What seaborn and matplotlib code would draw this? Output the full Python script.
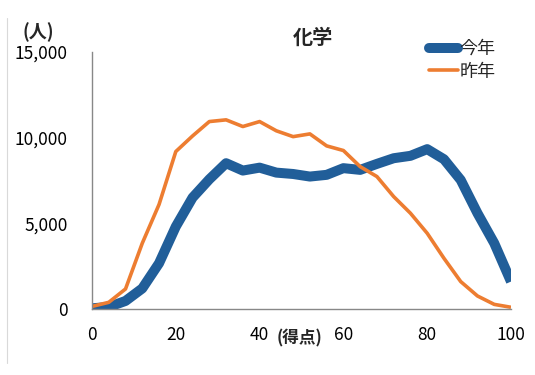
import matplotlib
matplotlib.use("Agg")
import matplotlib.pyplot as plt
import seaborn as sns
import pandas as pd
from matplotlib.ticker import FuncFormatter

scores = [0, 4, 8, 12, 16, 20, 24, 28, 32, 36, 40, 44, 48, 52, 56, 60, 64, 68, 72, 76, 80, 84, 88, 92, 96, 100]
this_year = [40, 120, 470, 1200, 2670, 4810, 6500, 7570, 8510, 8080, 8250, 7960, 7880, 7730,
             7830, 8220, 8120, 8470, 8800, 8940, 9330, 8740, 7530, 5590, 3840, 1600]
last_year = [150, 390, 1170, 3840, 6100, 9190, 10100, 10940, 11040, 10650, 10940, 10400, 10060, 10220,
             9520, 9250, 8310, 7730, 6560, 5590, 4420, 2960, 1600, 760, 270, 100]
series_names = ["今年", "昨年"]
title = "化学"
x_label = "(得点)"
y_label = "(人)"

df = pd.concat([
    pd.DataFrame({"score": scores, "count": this_year, "year": series_names[0]}),
    pd.DataFrame({"score": scores, "count": last_year, "year": series_names[1]}),
])

sns.set_style("white")
plt.rcParams["font.family"] = ["Noto Sans CJK JP", "DejaVu Sans"]

fig = plt.figure(figsize=(5.35, 3.75), dpi=100)
ax = fig.add_axes([92 / 535, 1 - 309 / 375, (511 - 92) / 535, (309 - 52) / 375])

palette = {series_names[0]: "#215E99", series_names[1]: "#ED7D31"}
sizes = {series_names[0]: 7.2, series_names[1]: 2.6}
for name in series_names:
    sub = df[df["year"] == name]
    sns.lineplot(data=sub, x="score", y="count", ax=ax, color=palette[name],
                 linewidth=sizes[name], label=name, solid_capstyle="butt",
                 solid_joinstyle="round")

ax.set_xlim(0, 100)
ax.set_ylim(0, 15000)
ax.set_xticks([0, 20, 40, 60, 80, 100])
ax.set_yticks([0, 5000, 10000, 15000])
ax.yaxis.set_major_formatter(FuncFormatter(lambda v, p: f"{int(v):,}"))
ax.set_xlabel("")
ax.set_ylabel("")
for s in ["top", "right"]:
    ax.spines[s].set_visible(False)
for s in ["left", "bottom"]:
    ax.spines[s].set_color("#888888")
    ax.spines[s].set_linewidth(1.0)
ax.tick_params(axis="both", direction="out", length=6.5, width=1.0, color="#888888",
               labelsize=12.5, labelcolor="black")
ax.tick_params(axis="y", pad=11)
ax.tick_params(axis="x", pad=6)

fig.text(313 / 535, 1 - 37 / 375, title, ha="center", va="center", fontsize=14.5, fontweight="bold")
fig.text(38 / 535, 1 - 32 / 375, y_label, ha="center", va="center", fontsize=13, fontweight="bold")
fig.text(300 / 535, 1 - 338 / 375, x_label, ha="center", va="center", fontsize=12, fontweight="bold")

leg = ax.legend(loc="upper left", bbox_to_anchor=(429 / 535, 1 - 40 / 375), bbox_transform=fig.transFigure,
                frameon=False, fontsize=13, handlelength=1.6, handletextpad=0.1, labelspacing=0.25,
                borderaxespad=0, borderpad=0)
for h in leg.get_lines():
    h.set_solid_capstyle("round")

fig.add_artist(plt.Line2D([7 / 535, 7 / 535], [1 - 18 / 375, 1 - 363 / 375], color="#d9d9d9", linewidth=0.8,
                          transform=fig.transFigure))

fig.savefig("out.png", dpi=100)
